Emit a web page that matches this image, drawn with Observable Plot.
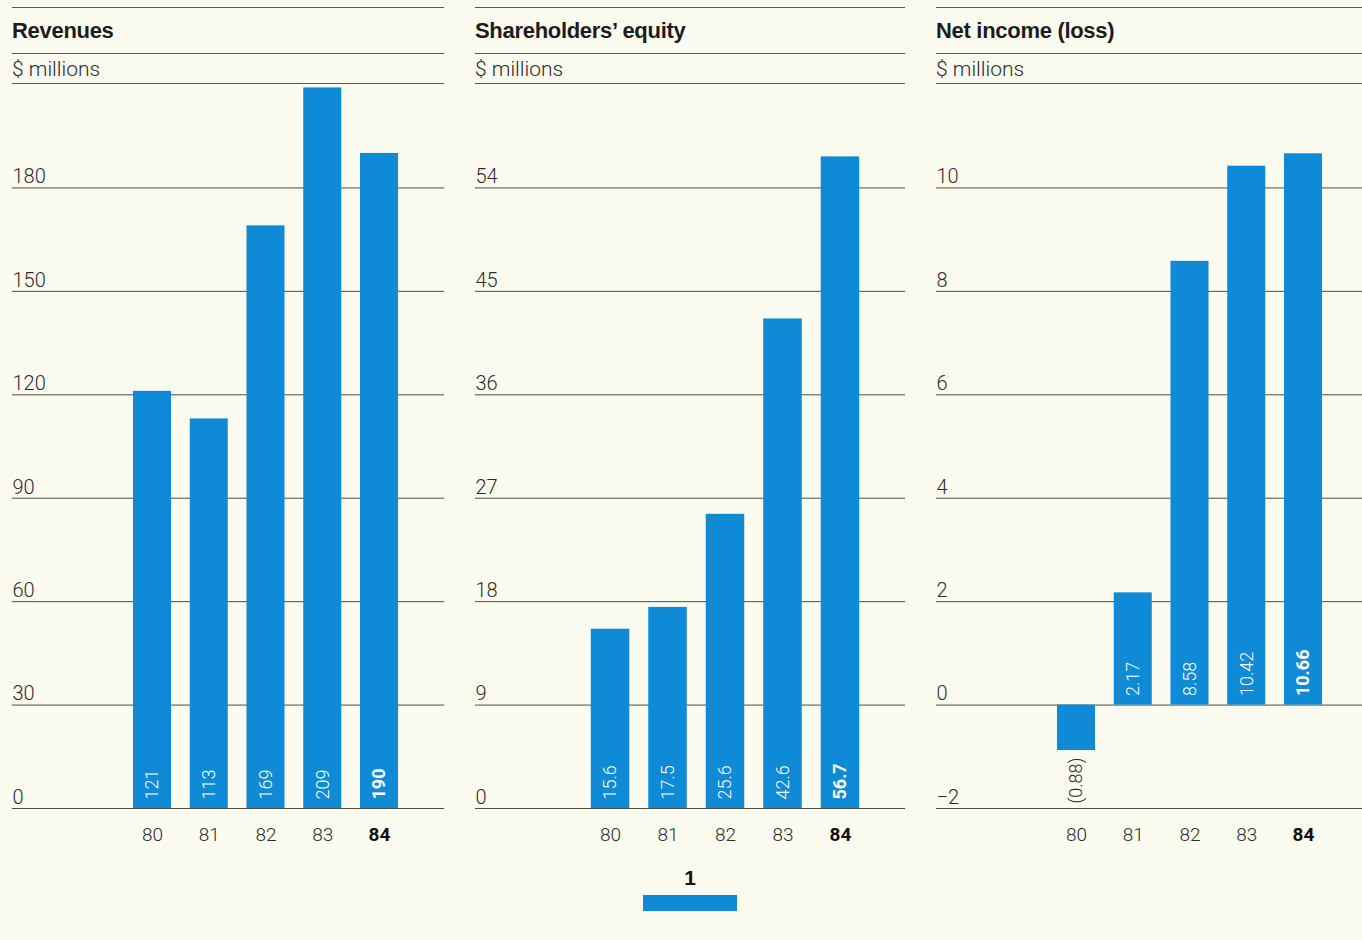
<!DOCTYPE html>
<html>
<head>
<meta charset="utf-8">
<script src="https://cdn.jsdelivr.net/npm/d3@7"></script>
<script src="https://cdn.jsdelivr.net/npm/@observablehq/plot@0.6"></script>
<style>
  html, body { margin: 0; padding: 0; background: #fcfbf0; }
  #page { position: relative; width: 1362px; height: 940px; overflow: hidden; background: #fcfbf0; font-family: Roboto, "Liberation Sans", sans-serif; color: #2b2b2b; }
  .panel { position: absolute; top: 0; height: 940px; }
  .hline { position: absolute; left: 0; right: 0; height: 0; border-top: 1px solid #5a5a50; }
  .title { position: absolute; left: 0; top: 18px; font-family: "Liberation Sans", Arial, sans-serif; font-weight: bold; font-size: 22px; letter-spacing: -0.3px; color: #1c1c1c; }
  .unit { position: absolute; left: 0; top: 57px; font-size: 21px; font-weight: 300; color: #2b2b2b; }
  .chart { position: absolute; left: 0; top: 84px; }
  .chart svg { overflow: visible; }
  #note { position: absolute; left: 643px; top: 866px; width: 94px; text-align: center; font-family: "Liberation Sans", Arial, sans-serif; font-weight: bold; font-size: 21px; color: #111; }
  #noteBar { position: absolute; left: 643px; top: 895px; width: 94px; height: 16px; background: #0f8ad6; }
</style>
</head>
<body>
<div id="page">
  <div id="note">1</div>
  <div id="noteBar"></div>
</div>
<script>
// ---- data ----
const years = ["80", "81", "82", "83", "84"];
const revenues = [121, 113, 169, 209, 190];
const revenueLabels = ["121", "113", "169", "209", "190"];
const revenueTicks = [0, 30, 60, 90, 120, 150, 180];

const equity = [15.6, 17.5, 25.6, 42.6, 56.7];
const equityLabels = ["15.6", "17.5", "25.6", "42.6", "56.7"];
const equityTicks = [0, 9, 18, 27, 36, 45, 54];

const netIncome = [-0.88, 2.17, 8.58, 10.42, 10.66];
const netLabels = ["(0.88)", "2.17", "8.58", "10.42", "10.66"];
const netTicks = [-2, 0, 2, 4, 6, 8, 10];
const netTickLabels = ["−2", "0", "2", "4", "6", "8", "10"];

const titles = ["Revenues", "Shareholders’ equity", "Net income (loss)"];
const unitLabel = "$ millions";
const latestYear = "84";

const BLUE = "#0f8ad6";
const INK = "#2b2b2b";
const LINE = "#4e4e44";

function makePanel({left, width, title, values, labels, ticks, tickLabels, yDomain, xRange}) {
  const page = document.getElementById("page");
  const panel = document.createElement("div");
  panel.className = "panel";
  panel.style.left = left + "px";
  panel.style.width = width + "px";
  panel.innerHTML = `
    <div class="hline" style="top:7px"></div>
    <div class="title">${title}</div>
    <div class="hline" style="top:53px"></div>
    <div class="unit">${unitLabel}</div>
    <div class="hline" style="top:83px"></div>`;
  const data = years.map((y, i) => ({year: y, value: values[i], label: labels[i]}));
  const tickData = ticks.map((t, i) => ({v: t, label: tickLabels ? tickLabels[i] : String(t)}));
  const yMin = yDomain[0];
  const pos = data.filter(d => d.value >= 0);
  const neg = data.filter(d => d.value < 0);

  const chart = Plot.plot({
    width: width,
    height: 776,
    marginTop: 0, marginBottom: 52, marginLeft: 0, marginRight: 0,
    x: {type: "band", domain: years, range: xRange, paddingInner: 0.33, paddingOuter: 0.165, round: false, axis: null},
    y: {domain: yDomain, axis: null},
    style: {background: "transparent", fontFamily: "Roboto, 'Liberation Sans', sans-serif", fontWeight: 300, overflow: "visible"},
    marks: [
      Plot.ruleY(ticks, {stroke: LINE, strokeWidth: 1}),
      Plot.text(tickData, {y: "v", text: "label", frameAnchor: "left", textAnchor: "start", dy: -11, fontSize: 20, fill: INK}),
      Plot.barY(data, {x: "year", y: "value", fill: BLUE}),
      Plot.text(pos.filter(d => d.year !== latestYear), {x: "year", y: 0, text: "label", rotate: -90, textAnchor: "start", dy: -9, fontSize: 18, fill: "white"}),
      Plot.text(pos.filter(d => d.year === latestYear), {x: "year", y: 0, text: "label", rotate: -90, textAnchor: "start", dy: -9, fontSize: 18, fill: "white", fontWeight: "bold"}),
      Plot.text(neg, {x: "year", y: yMin, text: "label", rotate: -90, textAnchor: "start", dy: -5, fontSize: 18, fill: INK}),
      Plot.text(years.filter(y => y !== latestYear), {x: d => d, y: yMin, text: d => d, dy: 26, fontSize: 19, fill: INK}),
      Plot.text([latestYear], {x: d => d, y: yMin, text: d => d, dy: 26, fontSize: 19, fill: "#111", fontWeight: "bold"})
    ]
  });
  const holder = document.createElement("div");
  holder.className = "chart";
  holder.appendChild(chart);
  panel.appendChild(holder);
  page.appendChild(panel);
}

makePanel({left: 12, width: 432, title: titles[0], values: revenues, labels: revenueLabels, ticks: revenueTicks, yDomain: [0, 210], xRange: [111.6, 395.4]});
makePanel({left: 475, width: 430, title: titles[1], values: equity, labels: equityLabels, ticks: equityTicks, yDomain: [0, 63], xRange: [106.3, 393.7]});
makePanel({left: 936, width: 426, title: titles[2], values: netIncome, labels: netLabels, ticks: netTicks, tickLabels: netTickLabels, yDomain: [-2, 12], xRange: [111.6, 395.4]});
</script>
</body>
</html>
